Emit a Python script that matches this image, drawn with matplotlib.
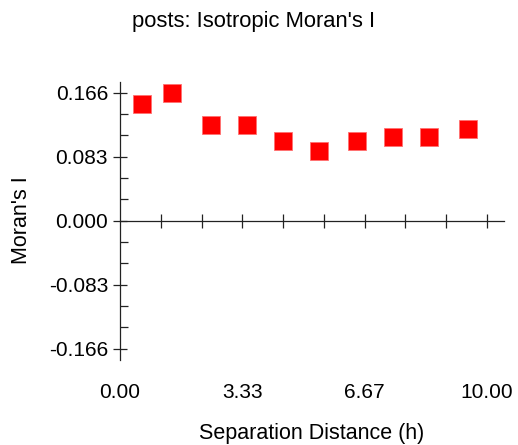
import matplotlib.pyplot as plt
from matplotlib.ticker import FixedLocator

plt.rcParams["font.family"] = ["Liberation Sans", "DejaVu Sans"]

# Moran's I por classe de distância
distancia = [0.61, 1.43, 2.48, 3.45, 4.45, 5.43, 6.45, 7.45, 8.43, 9.48]
moran_i = [0.152, 0.165, 0.124, 0.124, 0.103, 0.090, 0.103, 0.108, 0.108, 0.119]

y_ticks = [-0.166, -0.083, 0.000, 0.083, 0.166]
x_labels = [0.0, 10 / 3, 20 / 3, 10.0]
x_ticks = [k * 10 / 9 for k in range(1, 10)]

fig = plt.figure(figsize=(5.18, 4.45), dpi=100)
W, H = 518, 445
ax = fig.add_axes([120 / W, 1 - 360 / H, (504 - 120) / W, (360 - 82) / H])

ax.plot(distancia, moran_i, linestyle="none", marker="s", markersize=13,
        color="#ff0000", markeredgecolor="#ff7070", markeredgewidth=0.6)

ax.set_xlim(0, 10.47)
ax.set_ylim(-0.1807, 0.1799)

# eixo x passa pelo zero
for s in ["top", "right"]:
    ax.spines[s].set_visible(False)
ax.spines["bottom"].set_position(("data", 0))
for s in ["left", "bottom"]:
    ax.spines[s].set_color("#222222")
    ax.spines[s].set_linewidth(0.9)

ax.xaxis.set_major_locator(FixedLocator(x_ticks))
ax.tick_params(axis="x", which="major", direction="inout", length=10,
               width=0.9, color="#222222", labelbottom=False)

ax.set_yticks(y_ticks)
ax.set_yticklabels([f"{v:.3f}" for v in y_ticks])
minor_y = []
for a, b in zip(y_ticks[:-1], y_ticks[1:]):
    minor_y += [a + (b - a) / 3, a + 2 * (b - a) / 3]
ax.yaxis.set_minor_locator(FixedLocator(minor_y))
ax.tick_params(axis="y", which="major", direction="inout", length=10,
               width=0.9, color="#222222", pad=3.6, labelsize=15)
ax.tick_params(axis="y", which="minor", direction="in", length=6,
               width=0.9, color="#222222")

# rótulos do eixo x ficam abaixo do gráfico
sec = ax.secondary_xaxis("bottom")
sec.set_xticks(x_labels)
sec.set_xticklabels([f"{v:.2f}" for v in x_labels])
sec.spines["bottom"].set_visible(False)
sec.tick_params(length=0, pad=16.5, labelsize=15)

fig.text(254 / W, 1 - 26.7 / H, "posts: Isotropic Moran's I", ha="center",
         va="baseline", fontsize=15.8)
fig.text(312 / W, 1 - 439 / H, "Separation Distance (h)", ha="center",
         va="baseline", fontsize=15.5)
fig.text(22 / W, 1 - 220 / H, "Moran's I", ha="center", va="center",
         rotation=90, fontsize=15.5)

fig.savefig("out.png", dpi=100)
